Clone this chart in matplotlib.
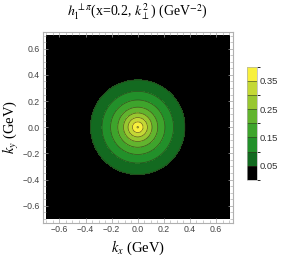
import numpy as np
import matplotlib
matplotlib.use("Agg")
import matplotlib.pyplot as plt
from matplotlib.colors import ListedColormap, BoundaryNorm
from matplotlib.ticker import MultipleLocator

# --- データ ---
levels = [0.05, 0.10, 0.15, 0.20, 0.25, 0.30, 0.35]
# 各等高線の半径 (GeV)
radii = [0.361, 0.274, 0.208, 0.153, 0.109, 0.074, 0.041]
peak_value = 0.385
band_colors = ["#000000", "#136a20", "#22902a", "#3ea42c", "#62b42e",
               "#98c730", "#c4d835", "#f8f03c"]
tick_vals = [-0.6, -0.4, -0.2, 0.0, 0.2, 0.4, 0.6]
cbar_ticks = [0.05, 0.15, 0.25, 0.35]

plt.rcParams["mathtext.fontset"] = "stix"
serif = ["Liberation Serif", "DejaVu Serif"]

fig = plt.figure(figsize=(2.84, 2.57), dpi=100)
ax = fig.add_axes([0.150, 0.134, 0.670, 0.742])

# 半径 -> 値 (読み取った等高線半径をつなぐ)
r_pts = np.array([0.0] + radii[::-1] + [1.5])
v_pts = np.array([peak_value] + levels[::-1] + [0.0])
k = np.linspace(-0.7, 0.7, 601)
KX, KY = np.meshgrid(k, k)
R = np.sqrt(KX**2 + KY**2)
Z = np.interp(R, r_pts, v_pts)

bounds = [0.0] + levels + [0.4]
cmap = ListedColormap(band_colors)
norm = BoundaryNorm(bounds, cmap.N)
cf = ax.contourf(KX, KY, Z, levels=bounds, cmap=cmap, norm=norm)
ax.contour(KX, KY, Z, levels=levels + [0.38], colors="#33331a", linewidths=0.5, alpha=0.75)

ax.set_xlim(-0.729, 0.729)
ax.set_ylim(-0.729, 0.729)
for s in ax.spines.values():
    s.set_color("#b0b0b0")
    s.set_linewidth(0.8)
ax.set_xticks(tick_vals)
ax.set_yticks(tick_vals)
ax.set_xticklabels([f"{v:.1f}".replace("-", "\u2212") for v in tick_vals])
ax.set_yticklabels([f"{v:.1f}".replace("-", "\u2212") for v in tick_vals])
ax.xaxis.set_minor_locator(MultipleLocator(0.05))
ax.yaxis.set_minor_locator(MultipleLocator(0.05))
ax.tick_params(which="both", direction="in", top=True, right=True, color="#a0a0a0",
               labelsize=6.3, labelcolor="#444444", pad=2,
               labelfontfamily="Liberation Sans")
ax.tick_params(which="major", length=3.5, width=0.5)
ax.tick_params(which="minor", length=2, width=0.4)

ax.set_xlabel(r"$k_x$ (GeV)", family=serif, fontsize=10.5, labelpad=3)
ax.set_ylabel(r"$k_y$ (GeV)", family=serif, fontsize=10.5, labelpad=1)
fig.text(0.485, 0.955, r"$h_1^{\perp\pi}$(x=0.2, $k_\perp^2$) (GeV$^{-2}$)",
         family=serif, fontsize=10, ha="center", va="center")

# カラーバー
cax = fig.add_axes([0.870, 0.300, 0.035, 0.440])
cb = fig.colorbar(cf, cax=cax, ticks=cbar_ticks)
cb.outline.set_edgecolor("#b0b0b0")
cb.outline.set_linewidth(0.5)
cb.ax.tick_params(length=0, labelsize=6.8, labelcolor="#333333", pad=2,
                  labelfontfamily="Liberation Sans")
cb.ax.set_yticklabels([f"{v:.2f}" for v in cbar_ticks])
for b in levels:
    cax.axhline(b, color="#33331a", lw=0.5, alpha=0.75)

fig.savefig("out.png", dpi=100)
